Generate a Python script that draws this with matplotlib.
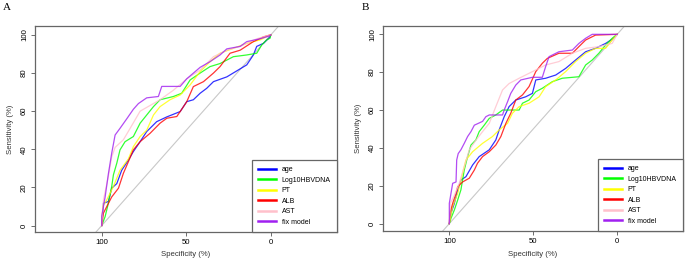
import matplotlib
matplotlib.use('Agg')
import matplotlib.pyplot as plt

plt.rcParams['font.family'] = ['Liberation Sans', 'DejaVu Sans']

names = ['age', 'Log10HBVDNA', 'PT', 'ALB', 'AST', 'fix model']
colors = ['#0000FF', '#00FF00', '#FFFF00', '#FF0000', '#FFC0CB', '#A020F0']

# panel A: specificity / sensitivity (%)
a_age_sp = [100, 99.0, 96.1, 94.1, 91.1, 88.2, 84.2, 81.3, 77.3, 73.4, 67.5, 61.5, 53.6, 49.7, 45.8, 41.8, 37.9, 33.9, 26.0, 14.2, 10.3, 8.3, 4.3, 0.4, 0]
a_age_se = [0, 11.7, 12.6, 19.6, 22.0, 29.0, 34.4, 38.8, 44.0, 49.3, 54.5, 57.0, 59.8, 65.0, 66.0, 69.4, 72.0, 75.5, 78.0, 84.3, 89.5, 94.0, 95.6, 99.0, 100]
a_dna_sp = [100, 98.0, 96.1, 94.1, 93.1, 91.1, 89.2, 86.2, 81.3, 77.3, 73.4, 69.4, 65.5, 57.6, 52.7, 47.7, 41.8, 35.9, 30.0, 22.1, 14.2, 8.3, 5.3, 2.4, 0.4, 0]
a_dna_se = [0, 4.7, 11.7, 20.5, 26.6, 32.7, 39.7, 44.0, 46.7, 53.7, 58.0, 62.4, 66.0, 67.7, 69.4, 76.4, 80.0, 83.4, 85.0, 88.6, 89.5, 90.4, 94.8, 97.4, 98.3, 100]
a_pt_sp = [100, 99.4, 97.0, 93.1, 89.2, 84.2, 81.3, 77.3, 73.4, 69.4, 65.5, 59.6, 53.6, 47.7, 41.8, 35.9, 30.0, 22.1, 14.2, 6.3, 0.4, 0]
a_pt_se = [0, 10.0, 13.5, 20.5, 29.0, 35.0, 41.4, 46.7, 50.0, 58.0, 62.4, 66.0, 68.5, 73.8, 80.8, 86.0, 90.4, 93.0, 95.6, 97.4, 100, 100]
a_alb_sp = [100, 99.0, 97.0, 94.1, 90.1, 87.2, 84.2, 81.3, 77.3, 71.4, 65.5, 61.5, 55.6, 53.6, 49.7, 45.8, 39.8, 33.9, 30.0, 24.1, 18.1, 10.3, 4.3, 0.4, 0]
a_alb_se = [0, 6.5, 10.0, 15.0, 19.6, 27.4, 33.6, 39.7, 44.0, 48.4, 53.7, 56.3, 57.2, 59.8, 65.0, 72.9, 75.5, 80.0, 83.4, 90.4, 92.0, 96.5, 99.0, 100, 100]
a_ast_sp = [100, 99.0, 96.1, 94.1, 92.1, 87.2, 83.2, 77.3, 71.4, 65.5, 57.6, 49.7, 41.8, 33.9, 26.0, 18.1, 8.3, 0.4, 0]
a_ast_se = [0, 13.5, 25.7, 36.0, 41.0, 45.0, 51.0, 60.0, 63.0, 66.0, 71.0, 77.0, 81.6, 88.6, 92.0, 94.0, 98.0, 100, 100]
a_fix_sp = [100, 100, 99.0, 98.0, 96.1, 94.1, 92.1, 89.2, 85.2, 81.3, 78.3, 73.4, 66.5, 64.5, 53.6, 49.7, 41.8, 35.9, 30.0, 26.0, 18.1, 14.2, 6.3, 0.4, 0]
a_fix_se = [0, 5.0, 10.0, 15.0, 27.0, 38.0, 47.5, 51.0, 56.0, 61.0, 64.0, 67.0, 67.7, 73.0, 73.0, 77.0, 83.0, 86.0, 89.5, 92.7, 94.0, 96.5, 98.0, 99.6, 100]

# panel B
b_age_sp = [100, 99.0, 97.0, 95.0, 93.1, 90.1, 86.1, 82.2, 76.2, 72.3, 70.3, 67.3, 64.4, 60.4, 54.5, 50.5, 48.5, 42.6, 36.6, 30.7, 24.8, 18.8, 12.9, 6.9, 3.0, 0]
b_age_se = [0, 5.5, 10.7, 17.8, 23.0, 24.8, 31.0, 35.4, 39.0, 44.2, 49.5, 56.5, 61.8, 65.3, 67.0, 68.8, 75.9, 76.8, 78.5, 82.0, 86.4, 90.8, 92.6, 95.2, 97.4, 100]
b_dna_sp = [100, 99.0, 97.0, 95.0, 93.1, 91.1, 89.1, 87.1, 84.2, 82.2, 79.2, 76.2, 72.3, 68.3, 58.4, 56.4, 52.5, 48.5, 44.6, 38.6, 32.7, 22.8, 18.8, 14.9, 10.9, 6.9, 3.0, 0]
b_dna_se = [0, 2.8, 7.2, 12.5, 17.8, 28.3, 35.4, 41.5, 44.2, 48.6, 52.0, 55.6, 57.4, 60.0, 60.0, 63.6, 65.3, 69.7, 71.5, 75.0, 76.8, 77.6, 83.8, 86.4, 90.0, 94.4, 97.9, 100]
b_pt_sp = [100, 98.0, 95.0, 92.1, 90.1, 86.1, 80.2, 74.3, 70.3, 65.3, 62.4, 58.4, 52.5, 46.5, 42.6, 36.6, 30.7, 24.8, 18.8, 12.9, 6.9, 3.0, 0]
b_pt_se = [0, 9.0, 16.0, 26.6, 33.6, 38.0, 42.4, 46.0, 49.5, 53.0, 58.3, 61.8, 63.6, 67.0, 72.4, 75.9, 80.3, 85.6, 90.0, 92.6, 92.6, 97.0, 100]
b_alb_sp = [100, 99.6, 98.0, 96.0, 95.0, 92.1, 88.1, 85.1, 83.2, 80.2, 76.2, 72.3, 69.3, 66.3, 63.4, 60.4, 56.4, 52.5, 48.5, 44.6, 41.6, 34.7, 26.7, 22.8, 18.8, 12.9, 0]
b_alb_se = [0, 5.5, 10.7, 16.0, 19.5, 22.0, 24.0, 28.3, 31.9, 35.4, 38.0, 41.5, 46.0, 53.0, 58.3, 65.3, 68.0, 72.4, 80.3, 84.7, 87.3, 90.0, 90.0, 93.5, 97.0, 99.6, 100]
b_ast_sp = [100, 99.4, 97.0, 94.1, 91.1, 88.1, 84.2, 80.2, 76.2, 72.3, 68.3, 64.4, 58.4, 50.5, 42.6, 34.7, 26.7, 18.8, 10.9, 3.0, 0]
b_ast_se = [0, 10.7, 15.0, 21.3, 30.0, 39.0, 44.0, 48.6, 53.0, 61.8, 70.6, 74.0, 76.8, 80.3, 83.8, 85.6, 90.0, 92.6, 93.5, 95.2, 100]
b_fix_sp = [100, 100, 99.0, 98.0, 96.0, 95.6, 94.7, 93.1, 91.1, 89.1, 87.1, 85.1, 80.2, 78.2, 76.2, 68.3, 67.3, 65.3, 63.4, 60.4, 57.4, 50.5, 44.6, 42.6, 40.6, 34.7, 26.7, 22.8, 18.8, 14.9, 0]
b_fix_se = [0, 10.7, 16.0, 21.3, 22.0, 33.6, 37.0, 39.0, 42.4, 46.0, 48.6, 52.0, 54.0, 56.5, 57.4, 57.4, 60.0, 64.4, 68.8, 73.2, 75.9, 77.3, 77.3, 83.0, 88.2, 90.8, 91.7, 95.2, 97.9, 100, 100]

panels = [
    ('A', [(a_age_sp, a_age_se), (a_dna_sp, a_dna_se), (a_pt_sp, a_pt_se),
           (a_alb_sp, a_alb_se), (a_ast_sp, a_ast_se), (a_fix_sp, a_fix_se)]),
    ('B', [(b_age_sp, b_age_se), (b_dna_sp, b_dna_se), (b_pt_sp, b_pt_se),
           (b_alb_sp, b_alb_se), (b_ast_sp, b_ast_se), (b_fix_sp, b_fix_se)]),
]
rects = [[35 / 685, 33 / 265, 302 / 685, 206 / 265],
         [383 / 685, 34 / 265, 300 / 685, 205 / 265]]
ylims = [(-3.4, 104.7), (-3.9, 104.4)]
letter_x = [3 / 685, 362 / 685]

fig = plt.figure(figsize=(6.85, 2.65), dpi=100)
for (lab, curves), rect, yl, lx in zip(panels, rects, ylims, letter_x):
    ax = fig.add_axes(rect)
    ax.plot([145, -45], [-45, 145], color='#C8C8C8', lw=0.8, zorder=1)
    for (sp, se), c, n in zip(curves, colors, names):
        ax.plot(sp, se, color=c, lw=0.9, alpha=0.8, label=n)
    ax.set_xlim(139.5, -39.2)
    ax.set_ylim(*yl)
    ax.set_xticks([100, 50, 0])
    ax.set_yticks([0, 20, 40, 60, 80, 100])
    ax.set_yticklabels(['0', '20', '40', '60', '80', '100'], rotation=90, va='center')
    ax.tick_params(labelsize=5.6, length=3, width=0.6, color='#555555', pad=2)
    for s in ax.spines.values():
        s.set_color('#666666')
        s.set_linewidth(0.9)
    ax.set_xlabel('Specificity (%)', fontsize=5.6, labelpad=4, color='#333333')
    ax.set_ylabel('Sensitivity (%)', fontsize=5.6, labelpad=5, color='#333333')
    leg = ax.legend(loc='lower right', bbox_to_anchor=(1.0, 0.0), borderaxespad=0,
                    fontsize=5, handlelength=2.6, handletextpad=0.8, labelspacing=0.5,
                    fancybox=False, framealpha=1, edgecolor='#666666',
                    borderpad=0.9)
    leg.get_frame().set_linewidth(0.9)
    for h in leg.get_lines():
        h.set_linewidth(1.8)
        h.set_alpha(1)
    fig.text(lx, 1 - 3 / 265, lab, family='Liberation Serif', fontsize=8, va='top', ha='left')

fig.savefig('out.png', dpi=100)
